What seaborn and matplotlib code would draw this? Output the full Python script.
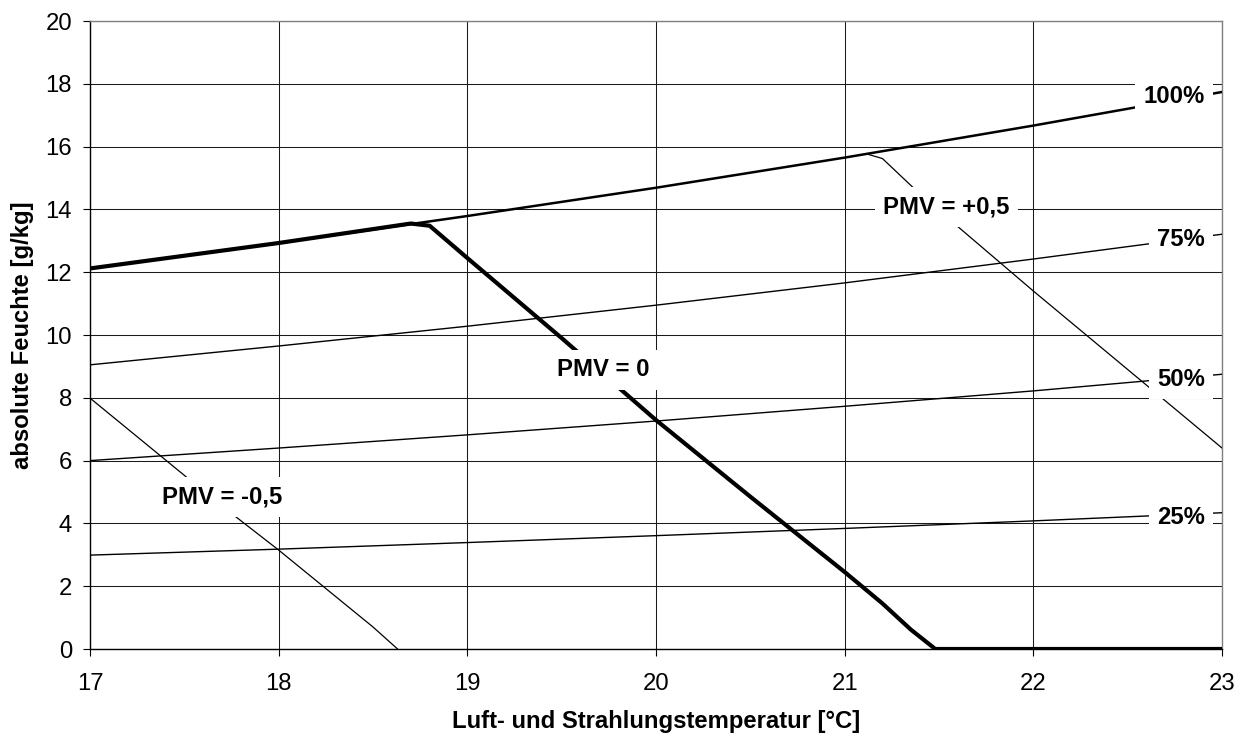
import matplotlib
matplotlib.use('Agg')
import matplotlib.pyplot as plt
import seaborn as sns

sns.set_theme(style="whitegrid")
plt.rcParams['font.family'] = ['Liberation Sans', 'DejaVu Sans']
plt.rcParams['text.color'] = 'black'

# Kurven gleicher relativer Feuchte (Temperatur °C -> absolute Feuchte g/kg)
temp = [17, 18, 19, 20, 21, 22, 23]
rh_100 = [12.12, 12.93, 13.79, 14.69, 15.65, 16.67, 17.74]
rh_75 = [9.05, 9.65, 10.28, 10.95, 11.66, 12.42, 13.21]
rh_50 = [6.00, 6.40, 6.82, 7.26, 7.73, 8.22, 8.75]
rh_25 = [2.99, 3.18, 3.39, 3.61, 3.84, 4.08, 4.34]
rh_labels = ['100%', '75%', '50%', '25%']

# PMV-Grenzlinien
pmv0_t = [17, 18, 18.7, 18.8, 19.0, 19.5, 20.0, 20.5, 21.0, 21.2, 21.35, 21.48, 23]
pmv0_x = [12.12, 12.93, 13.55, 13.48, 12.45, 9.9, 7.29, 4.85, 2.45, 1.45, 0.62, 0.0, 0.0]
pmv_p_t = [21.12, 21.2, 21.36, 21.6, 22.0, 22.5, 23.0]
pmv_p_x = [15.76, 15.62, 14.71, 13.45, 11.4, 8.9, 6.4]
pmv_m_t = [17.0, 17.51, 17.76, 18.0, 18.5, 18.63]
pmv_m_x = [7.99, 5.48, 4.27, 3.15, 0.7, 0.0]

pmv_labels = ['PMV = 0', 'PMV = -0,5', 'PMV = +0,5']
pmv_label_t = [19.72, 17.70, 21.54]
pmv_label_x = [8.89, 4.84, 14.08]

fs = 17.2

fig, ax = plt.subplots(figsize=(12.47, 7.37), dpi=100)
fig.subplots_adjust(left=0.0722, right=0.980, top=0.9715, bottom=0.1194)

rh_series = [rh_100, rh_75, rh_50, rh_25]
rh_widths = [1.8, 1.0, 1.0, 1.0]
for vals, lw in zip(rh_series, rh_widths):
    sns.lineplot(x=temp, y=vals, color='black', lw=lw, ax=ax,
                 estimator=None, sort=False, zorder=3)

sns.lineplot(x=pmv0_t, y=pmv0_x, color='black', lw=3.0, ax=ax,
             estimator=None, sort=False, zorder=4)
sns.lineplot(x=pmv_p_t, y=pmv_p_x, color='black', lw=0.9, ax=ax,
             estimator=None, sort=False, zorder=3)
sns.lineplot(x=pmv_m_t, y=pmv_m_x, color='black', lw=0.9, ax=ax,
             estimator=None, sort=False, zorder=3)

box = dict(boxstyle='square,pad=0.35', fc='white', ec='none')
for vals, lab in zip(rh_series, rh_labels):
    ax.annotate(lab, xy=(temp[-1], vals[-1]), xytext=(-17, -5),
                textcoords='offset pixels', ha='right', va='center',
                fontsize=fs, fontweight='bold', color='black', bbox=box, zorder=6)

for lab, t, x in zip(pmv_labels, pmv_label_t, pmv_label_x):
    ax.text(t, x, lab, ha='center', va='center', fontsize=fs,
            fontweight='bold', color='black', bbox=box, zorder=6)

ax.set_xlim(17, 23)
ax.set_ylim(0, 20)
ax.set_xticks(range(17, 24))
ax.set_yticks(range(0, 21, 2))
ax.grid(True, color='#1a1a1a', lw=0.75)
ax.set_facecolor('white')

for side in ['left', 'bottom']:
    ax.spines[side].set_color('black')
    ax.spines[side].set_linewidth(1.0)
for side in ['top', 'right']:
    ax.spines[side].set_color('#808080')
    ax.spines[side].set_linewidth(1.0)

ax.tick_params(axis='both', direction='out', length=5, width=0.8,
               color='black', labelsize=fs, labelcolor='black')
ax.tick_params(axis='x', pad=12)
ax.tick_params(axis='y', pad=8)
ax.tick_params(bottom=True, left=True)

ax.set_xlabel('Luft- und Strahlungstemperatur [°C]', fontsize=fs,
              fontweight='bold', color='black')
ax.set_ylabel('absolute Feuchte [g/kg]', fontsize=fs,
              fontweight='bold', color='black')
ax.xaxis.set_label_coords(0.5, -0.097)
ax.yaxis.set_label_coords(-0.0495, 0.5)

fig.savefig('out.png', dpi=100, facecolor='white')
plt.close(fig)
